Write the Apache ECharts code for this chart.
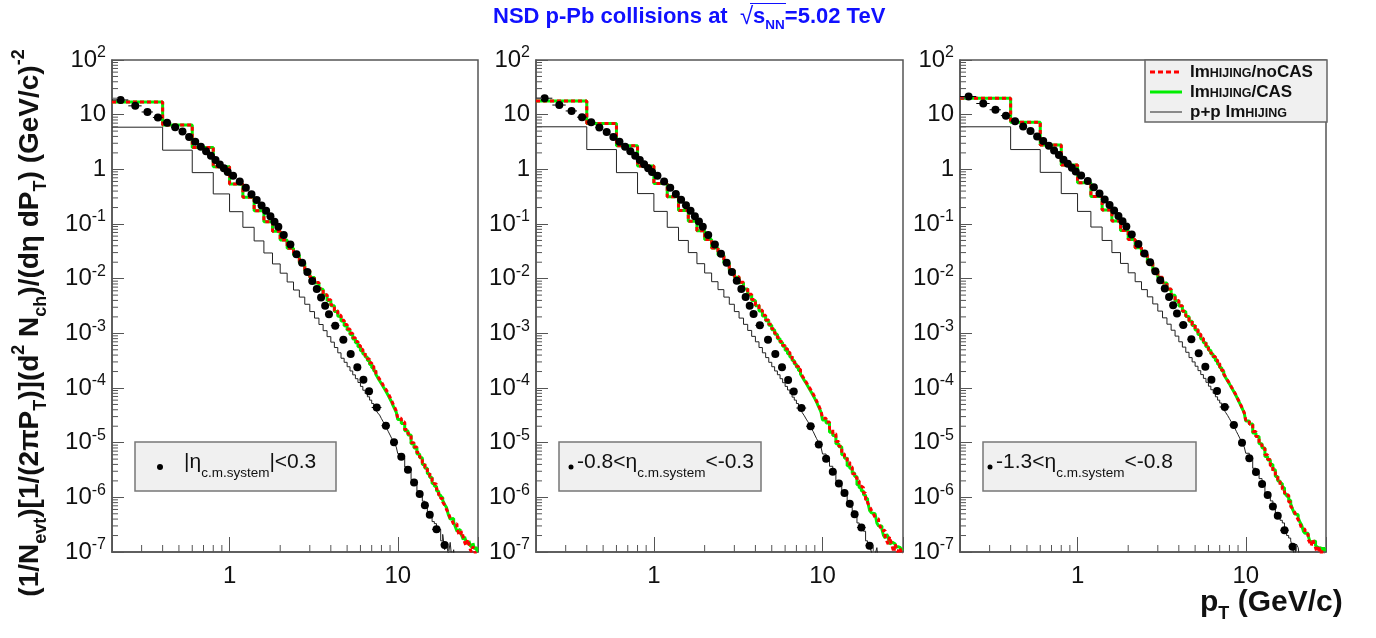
<!DOCTYPE html>
<html><head><meta charset="utf-8">
<script src="https://cdn.jsdelivr.net/npm/echarts@6/dist/echarts.min.js"></script>
<style>html,body{margin:0;padding:0;background:#fff}#c{width:1376px;height:638px}</style>
</head><body><div id="c"></div>
<script>
// ---------- bins ----------
const modelEdges = [0.2,0.4,0.6,0.8,1.0,1.2,1.4,1.6,1.8,2.0,2.2,2.4,2.6,2.8,3.0,3.2,3.4,3.6,3.8,4.0,4.2,4.4,4.6,4.8,5.0,5.2,5.4,5.6,5.8,6.0,6.2,6.4,6.6,6.8,7.0,7.2,7.4,7.6,7.8,8.0,8.2,8.4,8.6,8.8,9.0,9.2,9.4,9.6,9.8,10,
  10.5,11,11.5,12,12.5,13,13.5,14,14.5,15,15.5,16,16.5,17,17.5,18,18.5,19,19.5,20,20.5,21,21.5,22,22.5,23,23.5,24,24.5,25,25.5,26,26.5,27,27.5,28,28.5,29,29.5,30];
const dataEdges = [0.2,0.25,0.3,0.35,0.4,0.45,0.5,0.55,0.6,0.65,0.7,0.75,0.8,0.85,0.9,0.95,1.0,1.1,1.2,1.3,1.4,1.5,1.6,1.7,1.8,1.9,2.0,2.2,2.4,2.6,2.8,3.0,3.2,3.4,3.6,3.8,4.0,4.5,5.0,5.5,6.0,6.5,7.0,8,9,10,11,12,13,14,15,16,18,20];

// ---------- panel 1 : |eta|<0.3 ----------
const noCAS_1 = [17.0,6.5,2.5,1.12,0.54,0.31,0.174,0.11,0.074,0.051,0.036,0.027,0.0195,0.0141,0.0107,8.5e-3,6.6e-3,5.1e-3,4.1e-3,3.3e-3,2.6e-3,2.14e-3,1.74e-3,1.45e-3,1.2e-3,1.0e-3,8.3e-4,7.1e-4,6.0e-4,5.1e-4,4.5e-4,3.9e-4,3.4e-4,2.9e-4,2.5e-4,2.2e-4,1.9e-4,1.66e-4,1.45e-4,1.29e-4,1.12e-4,1.0e-4,8.9e-5,7.8e-5,6.8e-5,5.9e-5,5.0e-5,4.4e-5,3.8e-5,
  2.8e-5,2.4e-5,1.75e-5,1.45e-5,1.0e-5,8.3e-6,6.6e-6,5.4e-6,4.3e-6,3.5e-6,2.8e-6,2.4e-6,2.0e-6,1.75e-6,1.4e-6,1.1e-6,9.5e-7,8.2e-7,7.2e-7,6.0e-7,5.2e-7,4.2e-7,3.8e-7,3.2e-7,3.3e-7,2.7e-7,2.2e-7,2.0e-7,2.4e-7,1.9e-7,1.5e-7,1.3e-7,1.7e-7,1.4e-7,1.1e-7,1.0e-7,1.25e-7,1.1e-7,9e-8,8e-8];
const CAS_1 = [17.0,6.5,2.5,1.12,0.54,0.31,0.174,0.11,0.074,0.051,0.036,0.027,0.0193,0.014,0.0105,8.3e-3,6.4e-3,5.0e-3,4.0e-3,3.2e-3,2.5e-3,2.05e-3,1.68e-3,1.38e-3,1.15e-3,9.5e-4,7.9e-4,6.7e-4,5.7e-4,4.8e-4,4.2e-4,3.7e-4,3.2e-4,2.7e-4,2.35e-4,2.05e-4,1.78e-4,1.55e-4,1.36e-4,1.2e-4,1.05e-4,9.3e-5,8.2e-5,7.2e-5,6.3e-5,5.5e-5,4.7e-5,4.1e-5,3.6e-5,
  2.65e-5,2.25e-5,1.65e-5,1.38e-5,9.6e-6,8.0e-6,6.2e-6,5.3e-6,4.0e-6,3.4e-6,2.7e-6,2.3e-6,1.8e-6,1.6e-6,1.3e-6,1.1e-6,1.0e-6,8.8e-7,7.4e-7,6.5e-7,4.8e-7,4.0e-7,4.1e-7,3.5e-7,2.9e-7,2.4e-7,2.6e-7,2.3e-7,2.0e-7,1.7e-7,1.9e-7,1.5e-7,1.4e-7,1.6e-7,1.3e-7,1.2e-7,1.45e-7,1.15e-7,1.2e-7,1.05e-7];
const pp_1 = [5.9,2.24,0.87,0.355,0.168,0.087,0.049,0.0295,0.0186,0.0126,8.7e-3,6.2e-3,4.6e-3,3.4e-3,2.5e-3,1.9e-3,1.45e-3,1.12e-3,8.7e-4,6.9e-4,5.5e-4,4.4e-4,3.5e-4,2.95e-4,2.45e-4,2.05e-4,1.74e-4,1.48e-4,1.26e-4,1.07e-4,9.1e-5,7.9e-5,6.9e-5,6.0e-5,5.2e-5,4.6e-5,4.0e-5,3.5e-5,3.2e-5,2.75e-5,2.4e-5,2.1e-5,1.82e-5,1.58e-5,1.38e-5,1.2e-5,1.05e-5,9.3e-6,8.3e-6,
  6.3e-6,5.3e-6,3.6e-6,2.9e-6,2.1e-6,1.75e-6,1.3e-6,1.05e-6,8.5e-7,6.8e-7,5.5e-7,4.6e-7,3.6e-7,3.3e-7,2.3e-7,2.6e-7,1.6e-7,2.1e-7,1.1e-7,1.4e-7,9e-8,1.5e-7,7e-8,1.1e-7,5e-8,8e-8,3e-8,2e-8,2e-8,1e-8,1e-8,1e-8,1e-8,1e-8,1e-8,1e-8,1e-8,1e-8,1e-8,1e-8];
const data_1 = [18.6,14.5,11.2,8.9,7.1,5.9,4.9,3.9,3.2,2.6,2.15,1.78,1.48,1.23,1.05,0.89,
  0.76,0.60,0.46,0.35,0.275,0.219,0.174,0.138,0.11,0.089,
  0.063,0.042,0.028,0.0195,0.0132,9.1e-3,6.5e-3,4.5e-3,3.2e-3,2.24e-3,
  1.38e-3,7.6e-4,4.2e-4,2.4e-4,1.41e-4,8.7e-5,
  4.4e-5,2.04e-5,1.02e-5,5.5e-6,3.2e-6,1.86e-6,1.15e-6,7.2e-7,4.8e-7,2.6e-7,1.35e-7];

// ---------- panel 2 : -0.8<eta<-0.3 ----------
const noCAS_2 = [17.8,6.9,2.7,1.15,0.55,0.315,0.177,0.112,0.075,0.052,0.0365,0.0272,0.0196,0.0142,0.0108,8.6e-3,6.7e-3,5.2e-3,4.15e-3,3.3e-3,2.65e-3,2.15e-3,1.75e-3,1.46e-3,1.21e-3,1.0e-3,8.4e-4,7.1e-4,6.0e-4,5.2e-4,4.5e-4,3.9e-4,3.4e-4,2.9e-4,2.5e-4,2.2e-4,1.9e-4,1.65e-4,1.46e-4,1.28e-4,1.12e-4,1.0e-4,8.8e-5,7.8e-5,6.8e-5,5.9e-5,5.1e-5,4.4e-5,3.8e-5,
  2.8e-5,2.4e-5,1.8e-5,1.45e-5,1.05e-5,8.6e-6,6.2e-6,5.5e-6,4.4e-6,3.6e-6,2.7e-6,2.3e-6,2.0e-6,1.6e-6,1.5e-6,1.2e-6,9.0e-7,8.0e-7,6.8e-7,5.8e-7,5.0e-7,4.3e-7,4.0e-7,3.3e-7,2.9e-7,2.4e-7,2.5e-7,1.9e-7,1.6e-7,1.4e-7,1.9e-7,1.5e-7,1.2e-7,1.0e-7,1.4e-7,1.1e-7,1.0e-7,1.2e-7,1.1e-7,9e-8];
const CAS_2 = [17.8,6.9,2.7,1.15,0.55,0.315,0.177,0.112,0.075,0.052,0.0365,0.0272,0.0194,0.0141,0.0106,8.4e-3,6.5e-3,5.05e-3,4.0e-3,3.2e-3,2.55e-3,2.08e-3,1.7e-3,1.4e-3,1.16e-3,9.6e-4,8.0e-4,6.8e-4,5.8e-4,4.9e-4,4.25e-4,3.7e-4,3.2e-4,2.75e-4,2.4e-4,2.1e-4,1.8e-4,1.57e-4,1.38e-4,1.22e-4,1.07e-4,9.4e-5,8.3e-5,7.3e-5,6.4e-5,5.6e-5,4.8e-5,4.2e-5,3.6e-5,
  2.6e-5,2.3e-5,1.55e-5,1.35e-5,9.6e-6,8.4e-6,6.0e-6,5.2e-6,3.8e-6,3.4e-6,2.8e-6,2.4e-6,1.7e-6,1.5e-6,1.3e-6,1.1e-6,9.5e-7,8.5e-7,5.8e-7,5.2e-7,5.0e-7,4.6e-7,3.4e-7,3.0e-7,3.0e-7,2.6e-7,2.0e-7,1.8e-7,2.1e-7,1.9e-7,1.4e-7,1.5e-7,1.6e-7,1.4e-7,1.2e-7,1.25e-7,1.35e-7,1.2e-7,1.1e-7,1.15e-7];
const pp_2 = [6.0,2.3,0.87,0.36,0.17,0.087,0.05,0.03,0.0188,0.0127,8.8e-3,6.3e-3,4.6e-3,3.4e-3,2.5e-3,1.9e-3,1.46e-3,1.13e-3,8.8e-4,7.0e-4,5.5e-4,4.4e-4,3.6e-4,2.95e-4,2.45e-4,2.05e-4,1.75e-4,1.48e-4,1.25e-4,1.07e-4,9.2e-5,7.9e-5,6.8e-5,6.0e-5,5.2e-5,4.5e-5,4.0e-5,3.5e-5,3.1e-5,2.7e-5,2.4e-5,2.1e-5,1.8e-5,1.6e-5,1.38e-5,1.2e-5,1.06e-5,9.2e-6,8.2e-6,
  6.2e-6,5.2e-6,3.7e-6,3.0e-6,2.0e-6,1.7e-6,1.3e-6,1.1e-6,7.8e-7,6.6e-7,5.6e-7,4.8e-7,3.4e-7,3.0e-7,2.8e-7,2.4e-7,1.6e-7,1.45e-7,1.3e-7,1.0e-7,7e-8,9e-8,1.2e-7,6e-8,5e-8,7e-8,4e-8,3e-8,2e-8,2e-8,1e-8,1e-8,1e-8,1e-8,1e-8,1e-8,1e-8,1e-8,1e-8,1e-8];
const data_2 = [20.0,15.0,11.7,9.0,7.3,5.8,4.8,3.9,3.2,2.6,2.15,1.78,1.48,1.24,1.05,0.89,
  0.76,0.60,0.46,0.355,0.278,0.22,0.175,0.139,0.111,0.089,
  0.063,0.042,0.0285,0.0196,0.0133,9.2e-3,6.5e-3,4.6e-3,3.2e-3,2.25e-3,
  1.4e-3,7.6e-4,4.2e-4,2.4e-4,1.4e-4,8.6e-5,
  4.3e-5,2.0e-5,9.3e-6,5.1e-6,2.95e-6,1.8e-6,1.2e-6,7.6e-7,4.9e-7,2.8e-7,1.3e-7];

// ---------- panel 3 : -1.3<eta<-0.8 ----------
const noCAS_3 = [20.0,7.3,2.8,1.2,0.57,0.32,0.18,0.113,0.076,0.052,0.0368,0.0273,0.0196,0.0141,0.0106,8.4e-3,6.5e-3,5.0e-3,4.0e-3,3.2e-3,2.55e-3,2.08e-3,1.7e-3,1.42e-3,1.17e-3,9.7e-4,8.1e-4,6.9e-4,5.8e-4,5.0e-4,4.3e-4,3.75e-4,3.25e-4,2.8e-4,2.42e-4,2.1e-4,1.82e-4,1.58e-4,1.38e-4,1.22e-4,1.06e-4,9.3e-5,8.2e-5,7.2e-5,6.2e-5,5.4e-5,4.7e-5,4.1e-5,3.5e-5,
  2.6e-5,2.2e-5,1.6e-5,1.3e-5,9.2e-6,7.8e-6,6.0e-6,4.9e-6,3.8e-6,3.0e-6,2.5e-6,2.1e-6,1.6e-6,1.4e-6,1.2e-6,1.1e-6,8.2e-7,6.8e-7,6.2e-7,5.4e-7,4.5e-7,3.9e-7,3.3e-7,2.7e-7,2.6e-7,2.2e-7,2.1e-7,1.7e-7,1.5e-7,1.3e-7,1.7e-7,1.4e-7,1.2e-7,1.0e-7,1.3e-7,1.1e-7,9e-8,1.05e-7,9e-8,8e-8];
const CAS_3 = [20.0,7.3,2.8,1.2,0.57,0.32,0.18,0.113,0.076,0.052,0.0366,0.027,0.0194,0.014,0.0105,8.3e-3,6.4e-3,4.95e-3,3.95e-3,3.15e-3,2.5e-3,2.04e-3,1.67e-3,1.39e-3,1.15e-3,9.5e-4,7.9e-4,6.7e-4,5.7e-4,4.9e-4,4.2e-4,3.65e-4,3.15e-4,2.72e-4,2.35e-4,2.05e-4,1.77e-4,1.54e-4,1.35e-4,1.19e-4,1.03e-4,9.1e-5,8.0e-5,7.0e-5,6.1e-5,5.3e-5,4.6e-5,4.0e-5,3.45e-5,
  2.5e-5,2.2e-5,1.5e-5,1.3e-5,9.6e-6,8.0e-6,5.6e-6,4.8e-6,4.0e-6,3.2e-6,2.4e-6,2.0e-6,1.8e-6,1.5e-6,1.15e-6,1.05e-6,8.8e-7,7.6e-7,6.0e-7,5.0e-7,4.8e-7,4.2e-7,3.5e-7,3.1e-7,2.4e-7,2.2e-7,2.2e-7,2.0e-7,1.6e-7,1.5e-7,1.5e-7,1.6e-7,1.3e-7,1.2e-7,1.1e-7,1.2e-7,1.15e-7,1.05e-7,1.2e-7,1.1e-7];
const pp_3 = [6.0,2.3,0.88,0.36,0.17,0.088,0.05,0.03,0.019,0.0128,8.8e-3,6.3e-3,4.65e-3,3.45e-3,2.55e-3,1.92e-3,1.47e-3,1.14e-3,8.9e-4,7.0e-4,5.6e-4,4.5e-4,3.6e-4,3.0e-4,2.5e-4,2.08e-4,1.76e-4,1.5e-4,1.27e-4,1.08e-4,9.3e-5,8.0e-5,6.9e-5,6.0e-5,5.3e-5,4.6e-5,4.05e-5,3.55e-5,3.15e-5,2.75e-5,2.4e-5,2.1e-5,1.85e-5,1.6e-5,1.4e-5,1.22e-5,1.07e-5,9.4e-6,8.3e-6,
  6.4e-6,5.4e-6,3.4e-6,2.8e-6,2.2e-6,1.8e-6,1.2e-6,1.0e-6,8.6e-7,7.4e-7,5.0e-7,4.2e-7,3.8e-7,3.4e-7,2.4e-7,2.0e-7,1.8e-7,1.6e-7,1.2e-7,8e-8,1.4e-7,1.2e-7,7e-8,9e-8,5e-8,4e-8,3e-8,2e-8,2e-8,1e-8,1e-8,1e-8,1e-8,1e-8,1e-8,1e-8,1e-8,1e-8,1e-8,1e-8];
const data_3 = [21.5,16.0,12.3,9.6,7.6,6.1,5.0,4.0,3.3,2.7,2.2,1.82,1.5,1.26,1.07,0.91,
  0.77,0.61,0.47,0.36,0.28,0.222,0.176,0.14,0.112,0.09,
  0.064,0.043,0.029,0.02,0.0136,9.4e-3,6.6e-3,4.6e-3,3.25e-3,2.3e-3,
  1.42e-3,7.8e-4,4.3e-4,2.45e-4,1.42e-4,8.8e-5,
  4.5e-5,2.1e-5,1.0e-5,5.2e-6,2.9e-6,1.75e-6,1.1e-6,6.8e-7,4.6e-7,2.5e-7,1.25e-7];

// ---------- text ----------
const xTickValues = [1, 10];
const xTickLabels = ['1', '10'];
const yTickExponents = [-7,-6,-5,-4,-3,-2,-1,0,1,2];
const yTickLabels = ['{b|10}{s|-7}','{b|10}{s|-6}','{b|10}{s|-5}','{b|10}{s|-4}','{b|10}{s|-3}','{b|10}{s|-2}','{b|10}{s|-1}','{b|1}','{b|10}','{b|10}{s|2}'];
const panelLabels = ['{m||η}{s|c.m.system}{m||<0.3}', '{m|-0.8<η}{s|c.m.system}{m|<-0.3}', '{m|-1.3<η}{s|c.m.system}{m|<-0.8}'];
const legendNames = ['{a|Im}{k|HIJING}{a|/noCAS}', '{a|Im}{k|HIJING}{a|/CAS}', '{a|p+p Im}{k|HIJING}'];

const FONT = 'Liberation Sans';
const panels = [
  {noCAS: noCAS_1, CAS: CAS_1, pp: pp_1, data: data_1},
  {noCAS: noCAS_2, CAS: CAS_2, pp: pp_2, data: data_2},
  {noCAS: noCAS_3, CAS: CAS_3, pp: pp_3, data: data_3}
];
const gridLeft = [112, 536, 960], gridWidth = [366, 367, 366];
const GT = 60, GH = 492;

function steps(edges, vals) {
  const out = [];
  for (let i = 0; i < vals.length; i++) { out.push([edges[i], vals[i]]); out.push([edges[i + 1], vals[i]]); }
  return out;
}
const xMinor = [], yMinor = [];
for (let n = -1; n <= 1; n++) for (let m = 2; m <= 9; m++) { const v = m * Math.pow(10, n); if (v > 0.2 && v < 30) xMinor.push([v, 1]); }
for (let n = -7; n <= 1; n++) for (let m = 2; m <= 9; m++) yMinor.push([1, m * Math.pow(10, n)]);

const grids = [], xAxes = [], yAxes = [], series = [];
panels.forEach((p, k) => {
  grids.push({left: gridLeft[k], top: GT, width: gridWidth[k], height: GH, show: true, borderColor: '#555', borderWidth: 1.5, backgroundColor: 'transparent'});
  xAxes.push({type: 'log', logBase: 10, gridIndex: k, min: 0.2, max: 30,
    axisLine: {show: true, lineStyle: {color: '#555', width: 1.5}},
    axisTick: {show: true, inside: true, length: 15, lineStyle: {color: '#555', width: 1}},
    splitLine: {show: false},
    axisLabel: {fontFamily: FONT, fontSize: 24, color: '#111', margin: 12,
      formatter: v => { const i = xTickValues.findIndex(t => Math.abs(t - v) < 1e-6 * t); return i >= 0 ? xTickLabels[i] : ''; }}
  });
  yAxes.push({type: 'log', logBase: 10, gridIndex: k, min: 1e-7, max: 100, splitNumber: 9,
    axisLine: {show: true, lineStyle: {color: '#555', width: 1.5}},
    axisTick: {show: true, inside: true, length: 12, lineStyle: {color: '#555', width: 1}},
    splitLine: {show: false},
    axisLabel: {margin: 6, color: '#111',
      formatter: v => { const n = Math.round(Math.log10(v)); const i = yTickExponents.indexOf(n); return i >= 0 ? yTickLabels[i] : ''; },
      rich: {b: {fontFamily: FONT, fontSize: 24, lineHeight: 30, color: '#111'}, s: {fontFamily: FONT, fontSize: 16, lineHeight: 13, verticalAlign: 'top', color: '#111'}}}
  });
  series.push({type: 'line', name: 'CAS', xAxisIndex: k, yAxisIndex: k, data: steps(modelEdges, p.CAS), symbol: 'none', showSymbol: false, silent: true, z: 2,
    lineStyle: {color: '#00ee00', width: 3}});
  series.push({type: 'line', name: 'noCAS', xAxisIndex: k, yAxisIndex: k, data: steps(modelEdges, p.noCAS), symbol: 'none', showSymbol: false, silent: true, z: 3,
    lineStyle: {color: '#ff0000', width: 3, type: [4, 3]}});
  series.push({type: 'line', name: 'pp', xAxisIndex: k, yAxisIndex: k, data: steps(modelEdges, p.pp), symbol: 'none', showSymbol: false, silent: true, z: 4,
    lineStyle: {color: '#222', width: 1}});
  series.push({type: 'custom', name: 'data', xAxisIndex: k, yAxisIndex: k, silent: true, z: 5, clip: true,
    data: p.data.map((v, i) => [dataEdges[i], dataEdges[i + 1], (dataEdges[i] + dataEdges[i + 1]) / 2, v]),
    encode: {x: 2, y: 3},
    renderItem: (params, api) => {
      const a = api.coord([api.value(0), api.value(3)]), b = api.coord([api.value(1), api.value(3)]), c = api.coord([api.value(2), api.value(3)]);
      return {type: 'group', children: [
        {type: 'line', shape: {x1: a[0], y1: a[1], x2: b[0], y2: b[1]}, style: {stroke: '#000', lineWidth: 1}},
        {type: 'circle', shape: {cx: c[0], cy: c[1], r: 4}, style: {fill: '#000'}}
      ]};
    }});
  series.push({type: 'custom', xAxisIndex: k, yAxisIndex: k, silent: true, z: 6, data: xMinor, encode: {x: 0, y: 1},
    renderItem: (params, api) => { const cs = params.coordSys; const q = api.coord([api.value(0), 1]);
      return {type: 'line', shape: {x1: q[0], y1: cs.y + cs.height, x2: q[0], y2: cs.y + cs.height - 7}, style: {stroke: '#555', lineWidth: 1}}; }});
  series.push({type: 'custom', xAxisIndex: k, yAxisIndex: k, silent: true, z: 6, data: yMinor, encode: {x: 0, y: 1},
    renderItem: (params, api) => { const cs = params.coordSys; const q = api.coord([1, api.value(1)]);
      return {type: 'line', shape: {x1: cs.x, y1: q[1], x2: cs.x + 6, y2: q[1]}, style: {stroke: '#555', lineWidth: 1}}; }});
});

const labelRich = {m: {fontFamily: FONT, fontSize: 21, lineHeight: 36, fill: '#111'}, s: {fontFamily: FONT, fontSize: 13.5, lineHeight: 12, verticalAlign: 'bottom', fill: '#111'}};
const boxes = [
  {x: 135, w: 201, dot: 160, dr: 3, tx: 184},
  {x: 559, w: 202, dot: 571, dr: 2.5, tx: 577},
  {x: 983, w: 213, dot: 990, dr: 2.5, tx: 996}
];
const graphics = [];
boxes.forEach((b, k) => {
  graphics.push({type: 'rect', shape: {x: b.x, y: 442, width: b.w, height: 49}, style: {fill: '#f0f0f0', stroke: '#777', lineWidth: 1.5}, z: 10});
  graphics.push({type: 'circle', shape: {cx: b.dot, cy: 467, r: b.dr}, style: {fill: '#000'}, z: 11});
  graphics.push({type: 'text', x: b.tx, y: 462, style: {text: panelLabels[k], rich: labelRich, align: 'left', verticalAlign: 'middle'}, z: 11});
});
// legend
const legRich = {a: {fontFamily: FONT, fontSize: 17, fontWeight: 'bold', lineHeight: 22, fill: '#111'}, k: {fontFamily: FONT, fontSize: 12.5, fontWeight: 'bold', lineHeight: 19, padding: [3, 0, 0, 0], verticalAlign: 'middle', fill: '#111'}};
graphics.push({type: 'rect', shape: {x: 1145, y: 60, width: 182, height: 62}, style: {fill: '#f0f0f0', stroke: '#666', lineWidth: 1.5}, z: 10});
const legStyles = [{stroke: '#ff0000', lineWidth: 3, lineDash: [5, 3]}, {stroke: '#00ee00', lineWidth: 3}, {stroke: '#222', lineWidth: 1}];
[72, 92, 112].forEach((y, i) => {
  graphics.push({type: 'line', shape: {x1: 1150, y1: y, x2: 1182, y2: y}, style: legStyles[i], z: 11});
  graphics.push({type: 'text', x: 1190, y: y, style: {text: legendNames[i], rich: legRich, align: 'left', verticalAlign: 'middle'}, z: 11});
});
// title
const BLUE = '#1010ff';
graphics.push({type: 'text', x: 493, y: 17, style: {text: '{a|NSD p-Pb collisions at  }{r|√}{a|s}{n|NN}{a|=5.02 TeV}', align: 'left', verticalAlign: 'middle', fill: BLUE,
  rich: {a: {fontFamily: FONT, fontSize: 22, fontWeight: 'bold', lineHeight: 30, fill: BLUE, color: BLUE},
         r: {fontFamily: FONT, fontSize: 24, lineHeight: 30, fill: BLUE, color: BLUE},
         n: {fontFamily: FONT, fontSize: 13.5, fontWeight: 'bold', lineHeight: 12, verticalAlign: 'bottom', fill: BLUE, color: BLUE}}}});
graphics.push({type: 'line', shape: {x1: 750, y1: 3.5, x2: 786, y2: 3.5}, style: {stroke: BLUE, lineWidth: 1}});
// y title
graphics.push({type: 'text', x: 30, y: 323, rotation: Math.PI / 2, style: {
  text: '{m|(1/N}{sb|evt}{m|)[1/(2πP}{sb|T}{m|)](d}{sp|2}{m| N}{sb|ch}{m|)/(dη dP}{sb|T}{m|) (GeV/c)}{sp|-2}',
  align: 'center', verticalAlign: 'middle',
  rich: {m: {fontFamily: FONT, fontSize: 28, fontWeight: 'bold', lineHeight: 40, fill: '#111'},
         sb: {fontFamily: FONT, fontSize: 18, fontWeight: 'bold', lineHeight: 18, verticalAlign: 'bottom', fill: '#111'},
         sp: {fontFamily: FONT, fontSize: 18, fontWeight: 'bold', lineHeight: 16, verticalAlign: 'top', fill: '#111'}}}});
// x title
graphics.push({type: 'text', x: 1200, y: 603, style: {text: '{m|p}{sb|T}{m| (GeV/c)}', align: 'left', verticalAlign: 'middle',
  rich: {m: {fontFamily: FONT, fontSize: 30, fontWeight: 'bold', lineHeight: 40, fill: '#111'},
         sb: {fontFamily: FONT, fontSize: 18, fontWeight: 'bold', lineHeight: 18, verticalAlign: 'bottom', fill: '#111'}}}});

const chart = echarts.init(document.getElementById('c'), null, {renderer: 'canvas'});
chart.setOption({
  animation: false,
  backgroundColor: '#fff',
  textStyle: {fontFamily: FONT},
  grid: grids, xAxis: xAxes, yAxis: yAxes, series: series, graphic: graphics
});
</script></body></html>
